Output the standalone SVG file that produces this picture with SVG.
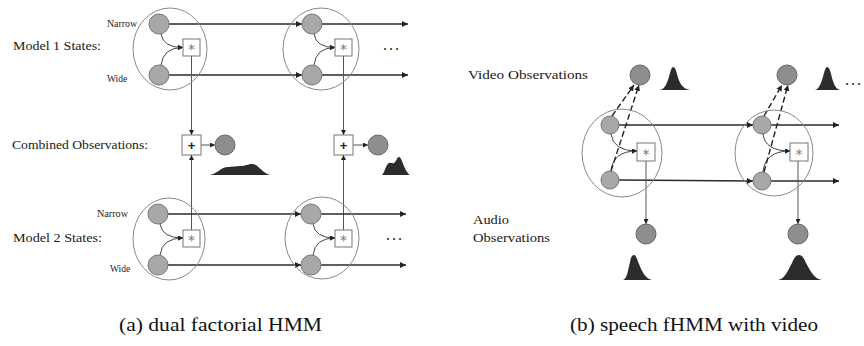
<svg xmlns="http://www.w3.org/2000/svg" width="864" height="346" viewBox="0 0 864 346">
<defs>
<marker id="ah" viewBox="0 0 10 10" refX="10" refY="5" markerWidth="6" markerHeight="6" markerUnits="userSpaceOnUse" orient="auto">
<path d="M0,0 L10,5 L0,10 Z" fill="#222"/>
</marker>
<marker id="ahs" viewBox="0 0 10 10" refX="10" refY="5" markerWidth="5" markerHeight="5" markerUnits="userSpaceOnUse" orient="auto">
<path d="M0,0 L10,5 L0,10 Z" fill="#222"/>
</marker>
<style>
.big{fill:none;stroke:#8a8a8a;stroke-width:1}
.st{fill:#a8a8a8;stroke:#777;stroke-width:1}
.ob{fill:#8e8e8e;stroke:#666;stroke-width:1}
.box{fill:#fff;stroke:#777;stroke-width:1}
.ln{fill:none;stroke:#2a2a2a;stroke-width:1.4}
.th{fill:none;stroke:#555;stroke-width:1}
.cv{fill:none;stroke:#444;stroke-width:1}
.da{fill:none;stroke:#222;stroke-width:1.4;stroke-dasharray:6,3}
.pdf{fill:#2c2c2c}
.lbl{font-family:"Liberation Serif","Times New Roman",serif;fill:#1a1a1a}
.sm{font-size:9.5px}
.md{font-size:13.5px}
.star{font-family:"DejaVu Sans",sans-serif;font-size:14px;fill:#777;text-anchor:middle}
.plus{font-family:"Liberation Sans",sans-serif;font-size:13px;font-weight:bold;fill:#222;text-anchor:middle}
.cap{font-family:"Liberation Serif","Times New Roman",serif;font-size:18px;fill:#111}
</style>
</defs>

<!-- connectors -->
<g id="connectors">
<!-- Model 1 -->
<line class="ln" x1="169" y1="24" x2="302" y2="24" marker-end="url(#ah)"/>
<line class="ln" x1="322" y1="24" x2="408" y2="24" marker-end="url(#ah)"/>
<line class="ln" x1="169" y1="75" x2="302" y2="75" marker-end="url(#ah)"/>
<line class="ln" x1="322" y1="75" x2="408" y2="75" marker-end="url(#ah)"/>
<path class="cv" d="M161,34 Q163,47.5 183,47.5" marker-end="url(#ahs)"/>
<path class="cv" d="M161,65 Q163,47.5 183,47.5" marker-end="url(#ahs)"/>
<path class="cv" d="M314,34 Q316,47.5 335,47.5" marker-end="url(#ahs)"/>
<path class="cv" d="M314,65 Q316,47.5 335,47.5" marker-end="url(#ahs)"/>
<line class="th" x1="191.5" y1="56" x2="191.5" y2="135" marker-end="url(#ahs)"/>
<line class="th" x1="343.5" y1="56" x2="343.5" y2="135" marker-end="url(#ahs)"/>
<!-- Combined -->
<line class="th" x1="201" y1="145" x2="215" y2="145" marker-end="url(#ahs)"/>
<line class="th" x1="353" y1="145" x2="368" y2="145" marker-end="url(#ahs)"/>
<!-- Model 2 -->
<line class="th" x1="191.5" y1="230" x2="191.5" y2="155" marker-end="url(#ahs)"/>
<line class="th" x1="343.5" y1="230" x2="343.5" y2="155" marker-end="url(#ahs)"/>
<line class="ln" x1="168" y1="214" x2="301" y2="214" marker-end="url(#ah)"/>
<line class="ln" x1="321" y1="214" x2="406" y2="214" marker-end="url(#ah)"/>
<line class="ln" x1="168" y1="265" x2="301" y2="265" marker-end="url(#ah)"/>
<line class="ln" x1="321" y1="265" x2="406" y2="265" marker-end="url(#ah)"/>
<path class="cv" d="M160,224 Q162,238 183,238" marker-end="url(#ahs)"/>
<path class="cv" d="M160,255 Q162,238 183,238" marker-end="url(#ahs)"/>
<path class="cv" d="M313,224 Q315,238 335,238" marker-end="url(#ahs)"/>
<path class="cv" d="M313,255 Q315,238 335,238" marker-end="url(#ahs)"/>
<!-- Panel b -->
<line class="ln" x1="619" y1="125" x2="753" y2="125" marker-end="url(#ah)"/>
<line class="ln" x1="771" y1="125" x2="839" y2="125" marker-end="url(#ah)"/>
<line class="ln" x1="619" y1="180" x2="753" y2="181" marker-end="url(#ah)"/>
<line class="ln" x1="771" y1="181" x2="839" y2="181" marker-end="url(#ah)"/>
<path class="cv" d="M611,134 Q613,151 637,151" marker-end="url(#ahs)"/>
<path class="cv" d="M611,171 Q613,151 637,151" marker-end="url(#ahs)"/>
<path class="cv" d="M763,134 Q765,151 790,151" marker-end="url(#ahs)"/>
<path class="cv" d="M763,172 Q765,151 790,151" marker-end="url(#ahs)"/>
<line class="da" x1="612" y1="116" x2="634" y2="85" marker-end="url(#ah)"/>
<line class="da" x1="611" y1="171" x2="639" y2="85" marker-end="url(#ah)"/>
<line class="da" x1="764" y1="116" x2="782" y2="85" marker-end="url(#ah)"/>
<line class="da" x1="764" y1="172" x2="788" y2="85" marker-end="url(#ah)"/>
<line class="th" x1="646" y1="161" x2="646" y2="224" marker-end="url(#ahs)"/>
<line class="th" x1="798" y1="161" x2="798" y2="224" marker-end="url(#ahs)"/>
</g>

<!-- Panel a: Model 1 -->
<g id="m1-labels">
<text class="lbl md" x="13" y="50" textLength="88" lengthAdjust="spacingAndGlyphs">Model 1 States:</text>
<text class="lbl sm" x="107" y="27" textLength="30" lengthAdjust="spacingAndGlyphs">Narrow</text>
<text class="lbl sm" x="107" y="82">Wide</text>
</g>
<g id="m1-t1">
<ellipse class="big" cx="170" cy="49" rx="37" ry="41"/>
<circle class="st" cx="159" cy="24" r="10"/>
<circle class="st" cx="159" cy="75" r="10"/>
<rect class="box" x="183" y="39" width="17" height="17"/>
<text class="star" x="191.5" y="54">*</text>
</g>
<g id="m1-t2">
<ellipse class="big" cx="321" cy="49" rx="38" ry="41"/>
<circle class="st" cx="312" cy="24" r="10"/>
<circle class="st" cx="312" cy="75" r="10"/>
<rect class="box" x="335" y="39" width="17" height="17"/>
<text class="star" x="343.5" y="54">*</text>
</g>
<g id="m1-dots"><text class="lbl" x="383" y="50" font-size="16" letter-spacing="2">...</text></g>

<!-- Combined observations -->
<g id="comb-label"><text class="lbl md" x="12" y="149" textLength="136" lengthAdjust="spacingAndGlyphs">Combined Observations:</text></g>
<g id="comb1">
<rect class="box" x="182" y="135" width="19" height="20"/>
<text class="plus" x="191.5" y="150">+</text>
<circle class="ob" cx="225" cy="145" r="10"/>
<path class="pdf" d="M210,175 C217,174 221,167 228,167 L240,166 C246,166 248,164 252,164 C258,164 262,173 270,175 Z"/>
</g>
<g id="comb2">
<rect class="box" x="334" y="135" width="19" height="20"/>
<text class="plus" x="343.5" y="150">+</text>
<circle class="ob" cx="378" cy="145" r="10"/>
<path class="pdf" d="M382,175 C385,172 386,164 389,163 C391,162 392,164 394,163 C396,162 397,157 399,157 C402,157 404,171 410,175 Z"/>
</g>

<!-- Model 2 -->
<g id="m2-labels">
<text class="lbl md" x="13" y="242" textLength="89" lengthAdjust="spacingAndGlyphs">Model 2 States:</text>
<text class="lbl sm" x="97" y="217" textLength="31" lengthAdjust="spacingAndGlyphs">Narrow</text>
<text class="lbl sm" x="110" y="272">Wide</text>
</g>
<g id="m2-t1">
<ellipse class="big" cx="169" cy="239" rx="36" ry="41"/>
<circle class="st" cx="158" cy="214" r="10"/>
<circle class="st" cx="158" cy="265" r="10"/>
<rect class="box" x="183" y="230" width="17" height="17"/>
<text class="star" x="191.5" y="245">*</text>
</g>
<g id="m2-t2">
<ellipse class="big" cx="322" cy="238" rx="37" ry="41"/>
<circle class="st" cx="311" cy="214" r="10"/>
<circle class="st" cx="311" cy="265" r="10"/>
<rect class="box" x="335" y="230" width="17" height="17"/>
<text class="star" x="343.5" y="245">*</text>
</g>
<g id="m2-dots"><text class="lbl" x="386" y="240" font-size="16" letter-spacing="2">...</text></g>

<!-- Panel b -->
<g id="b-labels">
<text class="lbl md" x="468" y="79" textLength="120" lengthAdjust="spacingAndGlyphs">Video Observations</text>
<text class="lbl md" x="473" y="224" textLength="36" lengthAdjust="spacingAndGlyphs">Audio</text>
<text class="lbl md" x="473" y="242" textLength="77" lengthAdjust="spacingAndGlyphs">Observations</text>
</g>
<g id="vid1">
<circle class="ob" cx="640" cy="75" r="10"/>
<path class="pdf" d="M660,90 C666,89 668,80 670,73 C671,69 672,67 673,67 C675,67 676,70 677,74 C679,82 682,89 690,90 Z"/>
</g>
<g id="vid2">
<circle class="ob" cx="787" cy="75" r="10"/>
<path class="pdf" d="M815,90 C820,89 822,80 824,73 C825,69 826,67 827,67 C829,67 830,70 831,74 C833,82 835,89 840,90 Z"/>
</g>
<g id="vid-dots"><text class="lbl" x="845" y="85" font-size="16" letter-spacing="2">...</text></g>
<g id="b-t1">
<ellipse class="big" cx="622" cy="153" rx="40" ry="44"/>
<circle class="st" cx="610" cy="125" r="9"/>
<circle class="st" cx="610" cy="180" r="9"/>
<rect class="box" x="637" y="143" width="18" height="18"/>
<text class="star" x="646" y="159">*</text>
</g>
<g id="b-t2">
<ellipse class="big" cx="774" cy="153" rx="39" ry="43"/>
<circle class="st" cx="762" cy="125" r="9"/>
<circle class="st" cx="762" cy="181" r="9"/>
<rect class="box" x="790" y="143" width="18" height="18"/>
<text class="star" x="799" y="159">*</text>
</g>
<g id="aud1">
<circle class="ob" cx="646" cy="234" r="10"/>
<path class="pdf" d="M623,280 C627,279 628,270 630,262 C631,257 632,255 634,255 C636,255 637,259 639,264 C642,272 646,279 652,280 Z"/>
</g>
<g id="aud2">
<circle class="ob" cx="798" cy="234" r="10"/>
<path class="pdf" d="M778,280 C785,279 788,270 792,263 C794,258 796,255 799,255 C802,255 804,258 806,263 C810,270 814,279 822,280 Z"/>
</g>

<!-- captions -->
<g id="captions">
<text class="cap" x="119" y="331" textLength="203" lengthAdjust="spacingAndGlyphs">(a) dual factorial HMM</text>
<text class="cap" x="570" y="331" textLength="248" lengthAdjust="spacingAndGlyphs">(b) speech fHMM with video</text>
</g>
</svg>
